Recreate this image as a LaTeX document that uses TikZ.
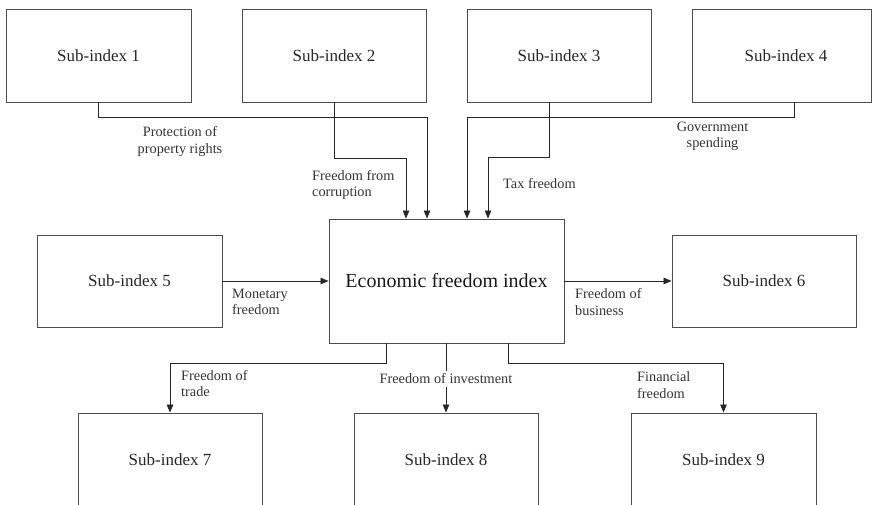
\documentclass[tikz,border=0pt]{standalone}
\usepackage{fontspec}
\setmainfont{Liberation Serif}
\usetikzlibrary{arrows.meta}
\begin{document}
\begin{tikzpicture}[x=1pt,y=-1pt,
  subbox/.style={draw=black!70,line width=0.9pt,rectangle,minimum width=185pt,minimum height=93pt,inner sep=0pt,font=\fontsize{17}{20}\selectfont,text=black!85},
  mainbox/.style={draw=black!70,line width=0.9pt,rectangle,minimum width=235pt,minimum height=124pt,inner sep=0pt,font=\fontsize{20}{24}\selectfont,text=black!90},
  lbl/.style={inner sep=0pt,font=\fontsize{14.3}{16.5}\selectfont,text=black!80},
  arr/.style={draw=black!85,line width=0.8pt,-{Triangle[length=8pt,width=6.5pt]}}]
\useasboundingbox (0,0) rectangle (872,505);
\clip (0,0) rectangle (872,505);
\node[subbox] (b1) at (98.5,55.5) {Sub-index 1};
\node[subbox,minimum width=184pt] (b2) at (334,55.5) {Sub-index 2};
\node[subbox,minimum width=184pt] (b3) at (559,55.5) {Sub-index 3};
\node[subbox,minimum width=179pt] (b4) at (781.5,55.5) {\hspace*{9pt}Sub-index 4};
\node[mainbox] (c) at (446.5,281) {Economic freedom index};
\node[subbox,minimum height=92pt] (b5) at (129.5,281) {Sub-index 5};
\node[subbox,minimum width=184pt,minimum height=92pt] (b6) at (764,281) {Sub-index 6};
\node[subbox,minimum width=184pt] (b7) at (170,459.5) {Sub-index 7};
\node[subbox,minimum width=184pt] (b8) at (446,459.5) {Sub-index 8};
\node[subbox] (b9) at (723.5,459.5) {Sub-index 9};
% top connectors
\draw[arr] (b1.south) -- ++(0,15) -| ([xshift=-19.5pt]c.north);
\draw[arr] (b2.south) -- ++(0,56) -| ([xshift=-40.5pt]c.north);
\draw[arr] ([xshift=12.5pt]b4.south) -- ++(0,15) -| ([xshift=20.5pt]c.north);
\draw[arr] ([xshift=-10pt]b3.south) -- ++(0,55) -| ([xshift=41.5pt]c.north);
% side connectors
\draw[arr] (b5.east) -- (c.west);
\draw[arr] (c.east) -- (b6.west);
% bottom connectors
\draw[arr] ([xshift=-60.5pt]c.south) -- ++(0,20) -| (b7.north);
\draw[arr] (c.south -| b8.north) -- (b8.north);
\draw[arr] ([xshift=61.5pt]c.south) -- ++(0,20) -| (b9.north);
% labels
\node[lbl,align=center] (l1) at (180,141.5) {Protection of\\property rights};
\node[lbl,align=left,anchor=west] (l2) at (312,185) {Freedom from\\corruption};
\node[lbl,align=center] (l4) at (712.5,136.5) {Government\\spending};
\node[lbl,anchor=west] (l3) at (503,184) {Tax freedom};
\node[lbl,align=left,anchor=west] (l5) at (232,302) {Monetary\\freedom};
\node[lbl,align=left,anchor=west] (l6) at (575,302) {Freedom of\\business};
\node[lbl,align=left,anchor=west] (l7) at (181,383.5) {Freedom of\\trade};
\node[lbl,fill=white,inner sep=3pt] (l8) at (446,379) {Freedom of investment};
\node[lbl,align=left,anchor=west] (l9) at (637,385) {Financial\\freedom};
\end{tikzpicture}
\end{document}
